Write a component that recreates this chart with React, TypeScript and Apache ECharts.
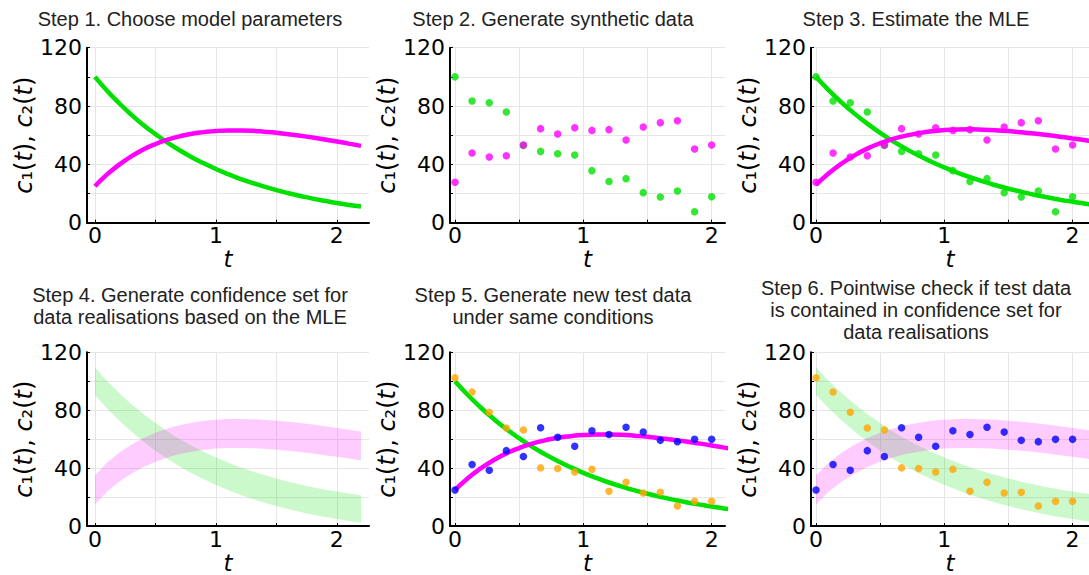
import React, { useEffect, useRef } from "react";
import * as echarts from "echarts";

// Fine time grid for the model curves
const tCurve = [0, 0.1, 0.2, 0.3, 0.4, 0.5, 0.6, 0.7, 0.8, 0.9, 1.0, 1.1, 1.2, 1.3, 1.4, 1.5, 1.6, 1.7, 1.8, 1.9, 2.0, 2.1, 2.2];

// True model solution
const c1True = [100, 90.5, 81.9, 74.1, 67.0, 60.7, 54.9, 49.7, 44.9, 40.7, 36.8, 33.3, 30.1, 27.3, 24.7, 22.3, 20.2, 18.3, 16.5, 15.0, 13.5, 12.2, 11.1];
const c2True = [25, 33.1, 39.8, 45.5, 50.2, 53.9, 56.9, 59.2, 61.0, 62.1, 62.9, 63.2, 63.2, 63.0, 62.4, 61.7, 60.7, 59.6, 58.4, 57.1, 55.7, 54.2, 52.7];

// Model solution at the MLE
const c1Mle = [100, 90.7, 82.4, 74.8, 67.9, 61.6, 55.9, 50.7, 46.0, 41.8, 37.9, 34.4, 31.2, 28.3, 25.7, 23.3, 21.2, 19.2, 17.4, 15.8, 14.4, 13.0, 11.8];
const c2Mle = [26, 33.9, 40.6, 46.2, 50.8, 54.5, 57.4, 59.7, 61.4, 62.7, 63.5, 63.9, 64.0, 63.8, 63.4, 62.8, 62.0, 61.1, 60.1, 59.0, 57.8, 56.6, 55.3];

// Confidence set for data realisations (lower / upper bounds)
const c1Low = [90.5, 81.2, 72.9, 65.3, 58.4, 52.1, 46.4, 41.2, 36.5, 32.3, 28.4, 24.9, 21.7, 18.8, 16.2, 13.8, 11.7, 9.7, 7.9, 6.3, 4.9, 3.5, 2.3];
const c1High = [109.5, 100.2, 91.9, 84.3, 77.4, 71.1, 65.4, 60.2, 55.5, 51.3, 47.4, 43.9, 40.7, 37.8, 35.2, 32.8, 30.7, 28.7, 26.9, 25.3, 23.9, 22.5, 21.3];
const c2Low = [15.0, 23.9, 30.6, 36.2, 40.8, 44.5, 47.4, 49.7, 51.4, 52.7, 53.5, 53.9, 54.0, 53.8, 53.4, 52.8, 52.0, 51.1, 50.1, 49.0, 47.8, 46.6, 45.3];
const c2High = [35.0, 43.9, 50.6, 56.2, 60.8, 64.5, 67.4, 69.7, 71.4, 72.7, 73.5, 73.9, 74.0, 73.8, 73.4, 72.8, 72.0, 71.1, 70.1, 69.0, 67.8, 66.6, 65.3];

// Observation times
const tObs = [0, 0.133, 0.267, 0.4, 0.533, 0.667, 0.8, 0.933, 1.067, 1.2, 1.333, 1.467, 1.6, 1.733, 1.867, 2.0];

// Synthetic data
const c1Obs = [100, 83.4, 82.3, 75.9, 53.0, 48.9, 47.3, 46.4, 35.7, 28.3, 30.2, 20.6, 17.6, 21.7, 7.5, 17.8];
const c2Obs = [27.7, 47.8, 45.0, 45.9, 53.3, 64.5, 60.8, 65.1, 63.3, 63.8, 56.7, 65.6, 68.6, 69.9, 50.5, 53.3];

// New test data
const c1Test = [102.4, 92.6, 78.6, 67.7, 66.3, 40.2, 39.8, 37.3, 39.3, 24.0, 30.2, 22.9, 23.3, 13.9, 17.1, 17.1];
const c2Test = [24.9, 42.5, 38.6, 52.1, 48.0, 67.9, 61.3, 55.1, 65.8, 63.3, 68.3, 64.9, 59.2, 58.3, 59.9, 59.9];

const xTicks = [0, 0.5, 1, 1.5, 2];
const xLabels = [0, 1, 2];

const titles = [
  "Step 1. Choose model parameters",
  "Step 2. Generate synthetic data",
  "Step 3. Estimate the MLE",
  "Step 4. Generate confidence set for\ndata realisations based on the MLE",
  "Step 5. Generate new test data\nunder same conditions",
  "Step 6. Pointwise check if test data\nis contained in confidence set for\ndata realisations",
];

const GREEN = "#00e100";
const MAGENTA = "#ff00ff";
const BLUE = "#0000ff";
const ORANGE = "#ffa500";
const GREEN_BAND = "rgba(0,225,0,0.2)";
const MAGENTA_BAND = "rgba(255,0,255,0.2)";
const FONT = "DejaVu Sans";
const TITLE_FONT = "Liberation Sans";

const cols = [
  { left: 87, width: 282, min: -0.066, max: 2.266, titleX: 190 },
  { left: 450, width: 275, min: -0.039, max: 2.104, titleX: 553 },
  { left: 811, width: 278, min: -0.039, max: 2.128, titleX: 916 },
];
const rows = [
  { top: 47.7, height: 175 },
  { top: 352.3, height: 175 },
];
const titleTops = [8, 8, 8, 284, 284, 277];

const pairs = (xs: number[], ys: number[]) => xs.map((x, k) => [x, ys[k]]);

function lineSeries(i: number, ys: number[], color: string) {
  return {
    type: "line",
    xAxisIndex: i,
    yAxisIndex: i,
    data: pairs(tCurve, ys),
    smooth: true,
    symbol: "none",
    showSymbol: false,
    lineStyle: { color, width: 4.5 },
    z: 3,
  };
}

function dotSeries(i: number, ys: number[], color: string) {
  return {
    type: "scatter",
    xAxisIndex: i,
    yAxisIndex: i,
    data: pairs(tObs, ys),
    symbol: "circle",
    symbolSize: 7.5,
    itemStyle: { color },
    z: 4,
  };
}

// Filled region between a lower and an upper bound, drawn as one polygon
function bandSeries(i: number, lo: number[], hi: number[], color: string) {
  const lower = pairs(tCurve, lo);
  const upper = pairs(tCurve, hi).reverse();
  return {
    type: "custom",
    coordinateSystem: "cartesian2d",
    xAxisIndex: i,
    yAxisIndex: i,
    data: [[0, 0]],
    clip: true,
    silent: true,
    z: 2,
    renderItem: (_params: any, api: any) => ({
      type: "polygon",
      shape: { points: [...lower, ...upper].map((p) => api.coord(p)) },
      style: { fill: color },
    }),
  };
}

export default function App() {
  const ref = useRef<HTMLDivElement>(null);

  useEffect(() => {
    if (!ref.current) return;
    const chart = echarts.init(ref.current, undefined, { renderer: "svg" });

    const grids: any[] = [];
    const xAxes: any[] = [];
    const yAxes: any[] = [];
    const graphics: any[] = [];

    for (let i = 0; i < 6; i++) {
      const c = cols[i % 3];
      const r = rows[Math.floor(i / 3)];
      grids.push({ left: c.left, top: r.top, width: c.width, height: r.height, containLabel: false });
      xAxes.push({
        type: "value",
        gridIndex: i,
        min: c.min,
        max: c.max,
        axisLine: { show: true, onZero: false, lineStyle: { color: "#000", width: 2 } },
        axisTick: { show: true, inside: true, length: 3, customValues: xTicks, lineStyle: { color: "#000", width: 1 } },
        axisLabel: { customValues: xLabels, margin: 2, fontSize: 22, fontFamily: FONT, color: "#000" },
        splitLine: { show: true, lineStyle: { color: "#e6e6e6", width: 1 } },
        name: "t",
        nameLocation: "middle",
        nameGap: 22,
        nameTextStyle: { fontFamily: FONT, fontSize: 23, fontStyle: "italic", color: "#000" },
      });
      yAxes.push({
        type: "value",
        gridIndex: i,
        min: 0,
        max: 120,
        interval: 20,
        axisLine: { show: true, onZero: false, lineStyle: { color: "#000", width: 2 } },
        axisTick: { show: true, inside: true, length: 3, lineStyle: { color: "#000", width: 1 } },
        axisLabel: {
          formatter: (v: number) => (v % 40 === 0 ? String(v) : ""),
          margin: 5,
          fontSize: 22,
          fontFamily: FONT,
          color: "#000",
        },
        splitLine: { show: true, lineStyle: { color: "#e6e6e6", width: 1 } },
        name: "{i|c}{r|₁(}{i|t}{r|), }{i|c}{r|₂(}{i|t}{r|)}",
        nameLocation: "middle",
        nameGap: 49,
        nameTextStyle: {
          fontFamily: FONT,
          fontSize: 24,
          color: "#000",
          rich: {
            i: { fontFamily: FONT, fontSize: 24, fontStyle: "italic", color: "#000" },
            r: { fontFamily: FONT, fontSize: 24, color: "#000" },
          },
        },
      });
      graphics.push({
        type: "text",
        x: c.titleX,
        y: titleTops[i],
        style: {
          text: titles[i],
          fill: "#222",
          font: `20px "${TITLE_FONT}"`,
          fontSize: 20,
          fontFamily: TITLE_FONT,
          textAlign: "center",
          textVerticalAlign: "top",
          lineHeight: 22,
        },
      });
    }

    const series: any[] = [
      // Step 1
      lineSeries(0, c1True, GREEN),
      lineSeries(0, c2True, MAGENTA),
      // Step 2
      dotSeries(1, c1Obs, GREEN),
      dotSeries(1, c2Obs, MAGENTA),
      // Step 3
      dotSeries(2, c1Obs, GREEN),
      dotSeries(2, c2Obs, MAGENTA),
      { ...lineSeries(2, c1Mle, GREEN), z: 5 },
      { ...lineSeries(2, c2Mle, MAGENTA), z: 5 },
      // Step 4
      bandSeries(3, c1Low, c1High, GREEN_BAND),
      bandSeries(3, c2Low, c2High, MAGENTA_BAND),
      // Step 5
      lineSeries(4, c1True, GREEN),
      lineSeries(4, c2True, MAGENTA),
      dotSeries(4, c1Test, ORANGE),
      dotSeries(4, c2Test, BLUE),
      // Step 6
      bandSeries(5, c1Low, c1High, GREEN_BAND),
      bandSeries(5, c2Low, c2High, MAGENTA_BAND),
      dotSeries(5, c1Test, ORANGE),
      dotSeries(5, c2Test, BLUE),
    ];

    chart.setOption({
      animation: false,
      backgroundColor: "#fff",
      grid: grids,
      xAxis: xAxes,
      yAxis: yAxes,
      graphic: graphics,
      series,
    });

    return () => chart.dispose();
  }, []);

  return <div ref={ref} style={{ position: "absolute", left: 0, top: 0, width: 1089, height: 575 }} />;
}
